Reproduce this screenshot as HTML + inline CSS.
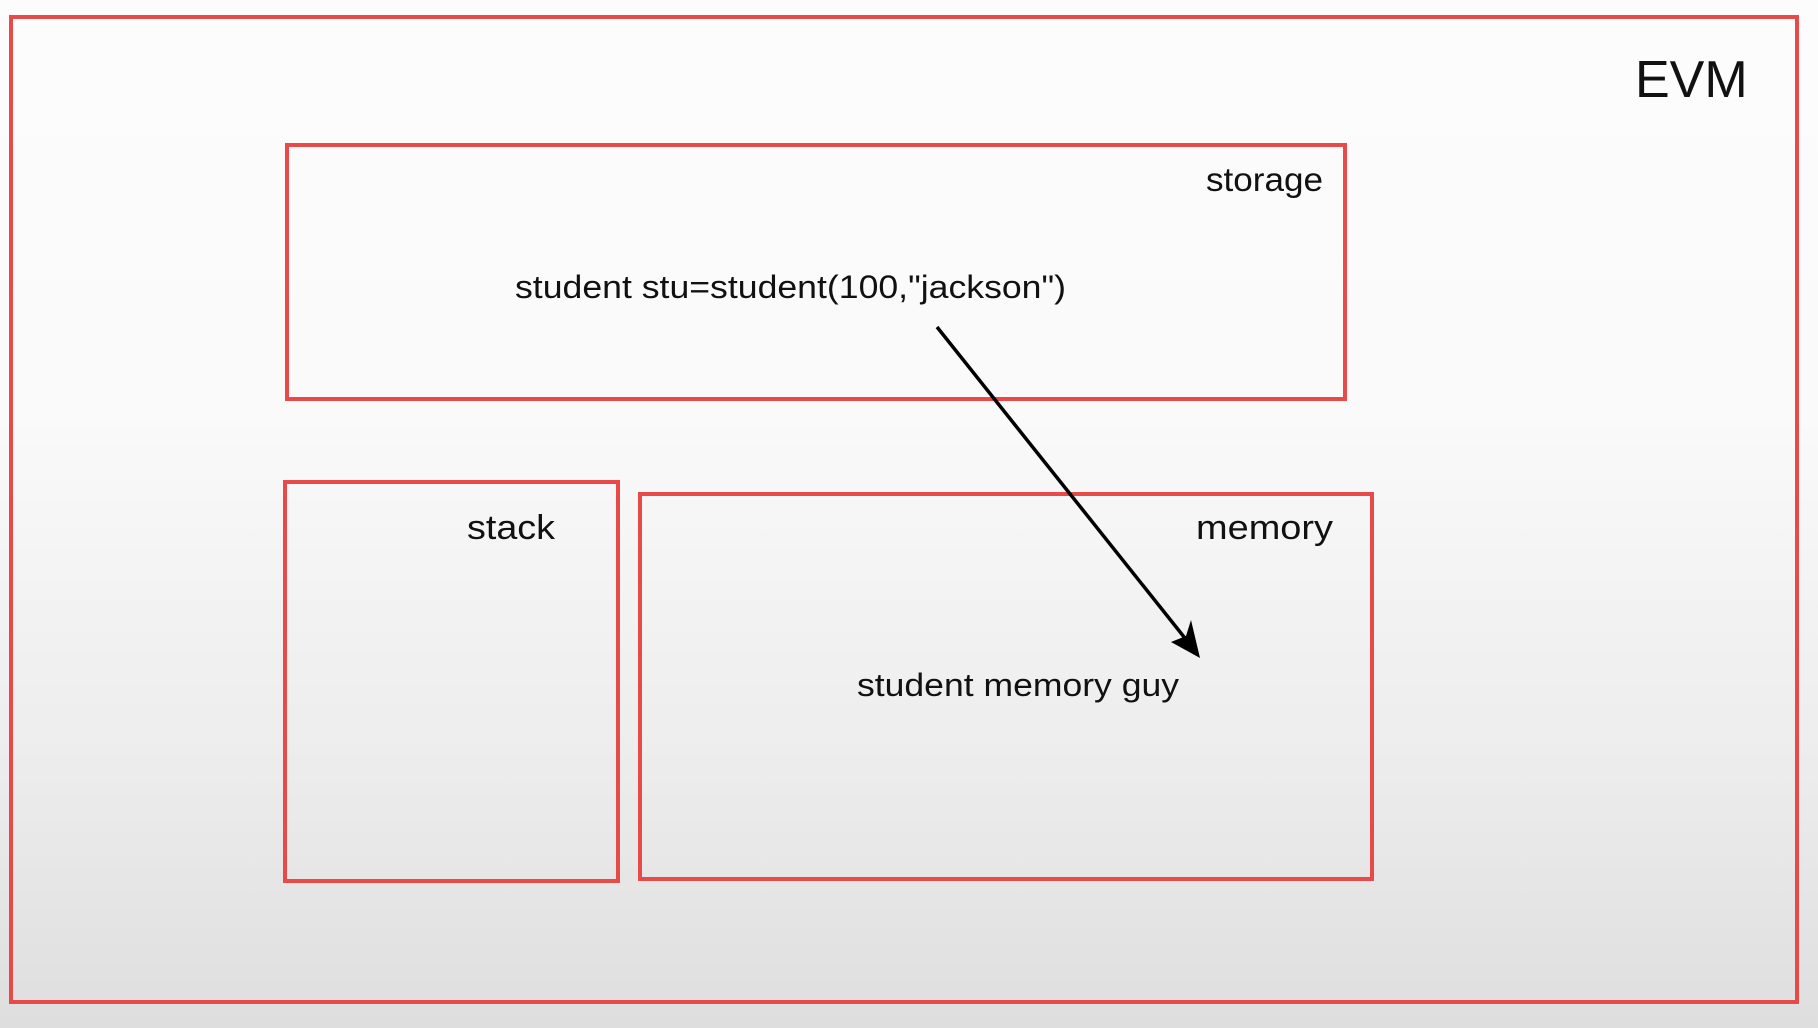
<!DOCTYPE html>
<html><head><style>
html,body{margin:0;padding:0;}
body{width:1818px;height:1028px;overflow:hidden;background:linear-gradient(#fcfcfc 0%,#fafafa 40%,#ececec 75%,#dedede 100%);}
svg{position:absolute;left:0;top:0;}
text{font-family:"Liberation Sans",Arial,sans-serif;fill:#111;}
</style></head><body>
<svg width="1818" height="1028" viewBox="0 0 1818 1028">
<g fill="none" stroke="#e84a4a" stroke-width="4">
<rect x="11" y="17" width="1786" height="985"/>
<rect x="287" y="145" width="1058" height="254"/>
<rect x="285" y="482" width="333" height="399"/>
<rect x="640" y="494" width="732" height="385"/>
</g>
<line x1="937" y1="327" x2="1196" y2="652" stroke="#000" stroke-width="3.5"/>
<path d="M1200,658 L1171,642 L1186,636 L1191,620 Z" fill="#000"/>
<text x="1635" y="97" font-size="52">EVM</text>
<text x="1206" y="191" font-size="33" textLength="117" lengthAdjust="spacingAndGlyphs">storage</text>
<text x="515" y="298" font-size="32" textLength="551" lengthAdjust="spacingAndGlyphs">student stu=student(100,"jackson")</text>
<text x="467" y="539" font-size="34" textLength="88" lengthAdjust="spacingAndGlyphs">stack</text>
<text x="1196" y="539" font-size="34" textLength="137" lengthAdjust="spacingAndGlyphs">memory</text>
<text x="857" y="696" font-size="32" textLength="322" lengthAdjust="spacingAndGlyphs">student memory guy</text>
</svg>
</body></html>
